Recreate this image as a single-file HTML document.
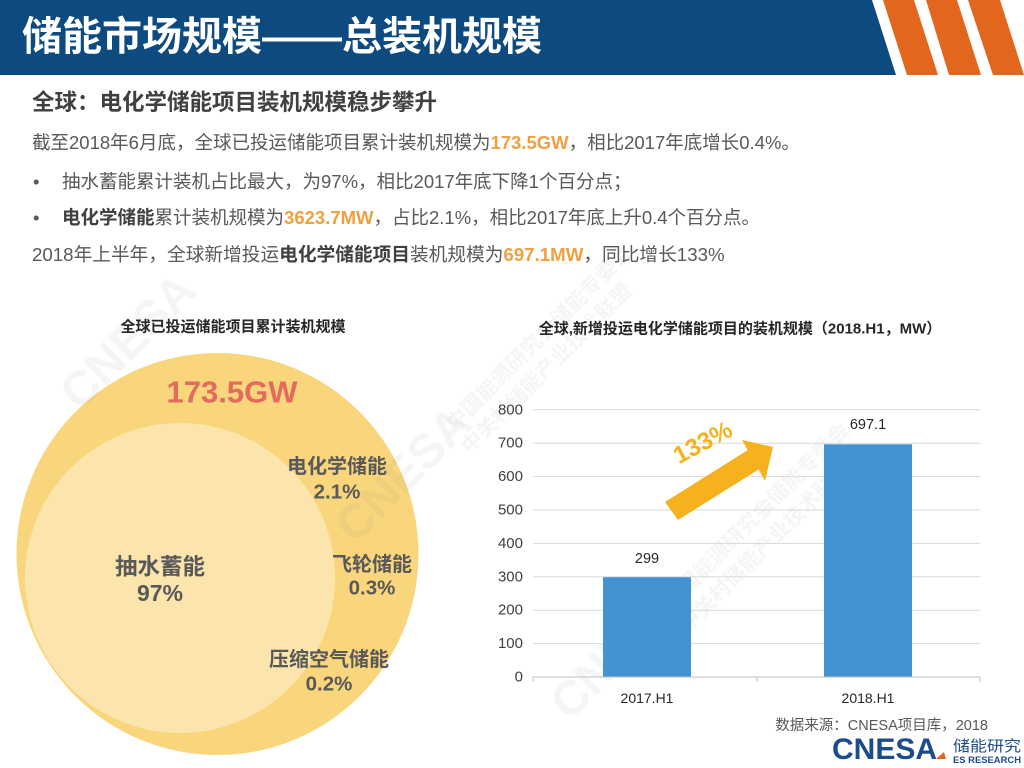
<!DOCTYPE html>
<html>
<head>
<meta charset="utf-8">
<style>
  html,body{margin:0;padding:0;}
  body{width:1024px;height:768px;position:relative;overflow:hidden;background:#ffffff;
    font-family:"Liberation Sans","Noto Sans CJK SC",sans-serif;}
  .t{position:absolute;white-space:nowrap;line-height:24px;font-size:18.5px;color:#595959;}
  .o{color:#f0a040;font-weight:bold;}
  .b{color:#404040;font-weight:bold;}
  svg{position:absolute;left:0;top:0;}
</style>
</head>
<body>
<svg width="1024" height="768" viewBox="0 0 1024 768" xmlns="http://www.w3.org/2000/svg">
  <!-- header -->
  <polygon points="0,0 872,0 896,75 0,75" fill="#0c4a7f"/>
  <polygon points="883,0 914,0 938,75 907,75" fill="#e2661b"/>
  <polygon points="926,0 957,0 981,75 949,75" fill="#e2661b"/>
  <polygon points="968,0 1000,0 1024,75 993,75" fill="#e2661b"/>
  <text x="22" y="37" fill="#ffffff" font-size="40" font-weight="bold" dominant-baseline="central" font-family="'Liberation Sans','Noto Sans CJK SC',sans-serif">储能市场规模——总装机规模</text>

  <!-- circles -->
  <circle cx="217.5" cy="554" r="201" fill="#f9d57c"/>
  <circle cx="180" cy="578" r="155" fill="#fce5ad"/>

  <!-- watermarks -->
  <g fill="#7a7a7a" fill-opacity="0.08" font-family="'Liberation Sans','Noto Sans CJK SC',sans-serif" font-weight="bold">
    <text transform="translate(80,412) rotate(-45)" font-size="48">CNESA</text>
    <text transform="translate(355,545) rotate(-45)" font-size="48">CNESA</text>
    <text transform="translate(455,432) rotate(-45)" font-size="21">中国能源研究会储能专委会</text>
    <text transform="translate(470,455) rotate(-45)" font-size="21">中关村储能产业技术联盟</text>
    <text transform="translate(570,722) rotate(-45)" font-size="48">CNESA</text>
    <text transform="translate(672,610) rotate(-45)" font-size="21">中国能源研究会储能专委会</text>
    <text transform="translate(688,633) rotate(-45)" font-size="21">中关村储能产业技术联盟</text>
  </g>

  <!-- pie chart title + labels -->
  <g font-family="'Liberation Sans','Noto Sans CJK SC',sans-serif" font-weight="bold" text-anchor="middle" dominant-baseline="central">
    <text x="233" y="327" font-size="15" fill="#262626">全球已投运储能项目累计装机规模</text>
    <text x="232" y="392" font-size="31" fill="#e46a5e">173.5GW</text>
    <g fill="#595959">
      <text x="337" y="467" font-size="20">电化学储能</text>
      <text x="337" y="492" font-size="20.5">2.1%</text>
      <text x="372" y="565" font-size="20">飞轮储能</text>
      <text x="372" y="588" font-size="20.5">0.3%</text>
      <text x="329" y="660" font-size="20">压缩空气储能</text>
      <text x="329" y="684" font-size="20.5">0.2%</text>
      <text x="160" y="567" font-size="22.5">抽水蓄能</text>
      <text x="160" y="593" font-size="23">97%</text>
    </g>
  </g>

  <!-- bar chart -->
  <g font-family="'Liberation Sans','Noto Sans CJK SC',sans-serif">
    <text x="740" y="329" font-size="15" font-weight="bold" fill="#262626" text-anchor="middle" dominant-baseline="central">全球,新增投运电化学储能项目的装机规模（2018.H1，MW）</text>
    <g stroke="#d9d9d9" stroke-width="1">
      <line x1="533" y1="643.6" x2="980" y2="643.6"/>
      <line x1="533" y1="610.2" x2="980" y2="610.2"/>
      <line x1="533" y1="576.8" x2="980" y2="576.8"/>
      <line x1="533" y1="543.4" x2="980" y2="543.4"/>
      <line x1="533" y1="510" x2="980" y2="510"/>
      <line x1="533" y1="476.6" x2="980" y2="476.6"/>
      <line x1="533" y1="443.2" x2="980" y2="443.2"/>
      <line x1="533" y1="409.8" x2="980" y2="409.8"/>
    </g>
    <rect x="603" y="577.2" width="88" height="99.8" fill="#4393d3"/>
    <rect x="824" y="444.3" width="88" height="232.7" fill="#4393d3"/>
    <g stroke="#bfbfbf" stroke-width="1">
      <line x1="533" y1="677" x2="980" y2="677"/>
      <line x1="533" y1="677" x2="533" y2="682"/>
      <line x1="757" y1="677" x2="757" y2="682"/>
      <line x1="980" y1="677" x2="980" y2="682"/>
    </g>
    <g font-size="15" fill="#404040" text-anchor="end" dominant-baseline="central">
      <text x="523" y="677">0</text>
      <text x="523" y="643.6">100</text>
      <text x="523" y="610.2">200</text>
      <text x="523" y="576.8">300</text>
      <text x="523" y="543.4">400</text>
      <text x="523" y="510">500</text>
      <text x="523" y="476.6">600</text>
      <text x="523" y="443.2">700</text>
      <text x="523" y="409.8">800</text>
    </g>
    <g font-size="14.5" fill="#262626" text-anchor="middle" dominant-baseline="central">
      <text x="647" y="559">299</text>
      <text x="868" y="425">697.1</text>
    </g>
    <g font-size="14" fill="#262626" text-anchor="middle" dominant-baseline="central">
      <text x="647" y="698">2017.H1</text>
      <text x="868" y="698">2018.H1</text>
    </g>
    <!-- arrow -->
    <polygon points="665,502 747.7,450.1 742,440 773,447 765,481 758.6,469.5 678,520" fill="#f6b21e"/>
    <text transform="translate(703,443) rotate(-28)" font-size="24.5" font-weight="bold" fill="#f6b21e" text-anchor="middle" dominant-baseline="central">133%</text>
  </g>

  <!-- source + logo -->
  <g font-family="'Liberation Sans','Noto Sans CJK SC',sans-serif">
    <text x="988" y="726" font-size="14.5" fill="#595959" text-anchor="end" dominant-baseline="central">数据来源：CNESA项目库，2018</text>
    <text x="832" y="759" font-size="30" font-weight="bold" fill="#1d4c8c">CNESA</text>
    <polygon points="936,759 944,752 946,759" fill="#e2661b"/>
    <text x="953" y="751" font-size="15" fill="#1d4c8c" textLength="68" lengthAdjust="spacingAndGlyphs">储能研究</text>
    <text x="953" y="763" font-size="9.5" font-weight="bold" fill="#1d4c8c" textLength="68" lengthAdjust="spacingAndGlyphs">ES RESEARCH</text>
  </g>
</svg>

<div class="t b" style="left:32px;top:91px;font-size:22.5px;">全球：电化学储能项目装机规模稳步攀升</div>
<div class="t" style="left:32px;top:131px;">截至2018年6月底，全球已投运储能项目累计装机规模为<span class="o">173.5GW</span>，相比2017年底增长0.4%。</div>
<div class="t" style="left:33px;top:170px;">•</div>
<div class="t" style="left:62px;top:170px;">抽水蓄能累计装机占比最大，为97%，相比2017年底下降1个百分点；</div>
<div class="t" style="left:33px;top:206px;">•</div>
<div class="t" style="left:62px;top:206px;"><span class="b">电化学储能</span>累计装机规模为<span class="o">3623.7MW</span>，占比2.1%，相比2017年底上升0.4个百分点。</div>
<div class="t" style="left:32px;top:243px;font-size:18.7px;">2018年上半年，全球新增投运<span class="b">电化学储能项目</span>装机规模为<span class="o">697.1MW</span>，同比增长133%</div>
</body>
</html>
